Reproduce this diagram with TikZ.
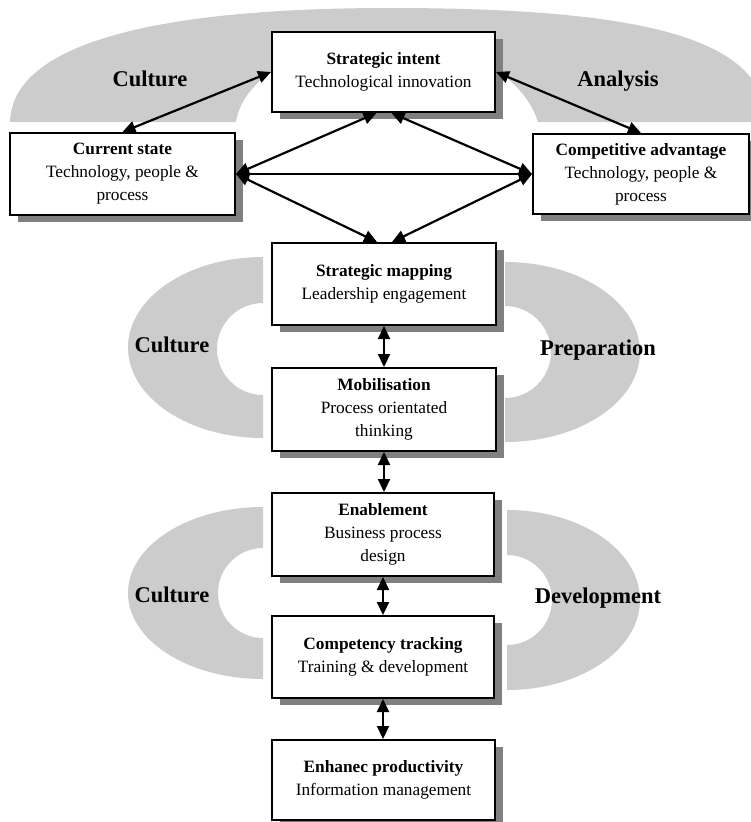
\documentclass[tikz,border=0pt]{standalone}
\usepackage{fontspec}
\setmainfont{Liberation Serif}
\usetikzlibrary{arrows.meta,shadows,calc}
\definecolor{band}{RGB}{204,204,204}
\definecolor{shade}{RGB}{128,128,128}
\begin{document}
\begin{tikzpicture}[x=1pt,y=-1pt,
  box/.style={draw=black, line width=2pt, fill=white, align=center, inner sep=2pt,
    font=\fontsize{17.3}{23}\selectfont,
    drop shadow={shadow xshift=8pt, shadow yshift=-7pt, fill=shade, opacity=1}},
  lab/.style={font=\fontsize{22.5}{27}\selectfont\bfseries, anchor=base, inner sep=0pt},
  arr/.style={{Triangle[length=13pt,width=12pt]}-{Triangle[length=13pt,width=12pt]}, line width=2.2pt}]
\useasboundingbox (0,0) rectangle (751,822);
\clip (0,0) rectangle (751,822);

% grey bands
\fill[band] (10,122) .. controls (12,45) and (150,8) .. (390,8)
  .. controls (650,8) and (765,40) .. (766,122) -- (538,122)
  .. controls (525,80) and (470,40) .. (390,40)
  .. controls (300,40) and (242,80) .. (236,122) -- cycle;
\fill[band] (263,257) arc[start angle=-90, end angle=-270, x radius=135, y radius=90.5]
  -- (263,395) arc[start angle=90, end angle=270, radius=46] -- cycle;
\fill[band] (505,262) arc[start angle=-90, end angle=90, x radius=135, y radius=90]
  -- (505,398) arc[start angle=90, end angle=-90, radius=46] -- cycle;
\fill[band] (263,507) arc[start angle=-90, end angle=-270, x radius=135, y radius=86]
  -- (263,638) arc[start angle=90, end angle=270, radius=45] -- cycle;
\fill[band] (507,510) arc[start angle=-90, end angle=90, x radius=133, y radius=90]
  -- (507,645) arc[start angle=90, end angle=-90, radius=45] -- cycle;

% band labels
\node[lab] (l1) at (150,86) {Culture};
\node[lab] (l2) at (618,86) {Analysis};
\node[lab] (l3) at (172,352) {Culture};
\node[lab] (l4) at (598,355) {Preparation};
\node[lab] (l5) at (172,602) {Culture};
\node[lab] (l6) at (598,603) {Development};

% boxes
\node[box, minimum width=223pt, minimum height=80pt] (si) at (383.5,72) {\textbf{Strategic intent}\\Technological innovation};
\node[box, minimum width=225pt, minimum height=82pt] (cs) at (122.5,174) {\textbf{Current state}\\Technology, people \&\\process};
\node[box, minimum width=216pt, minimum height=80pt] (ca) at (641,174) {\textbf{Competitive advantage}\\Technology, people \&\\process};
\node[box, minimum width=224pt, minimum height=82pt] (sm) at (384,284) {\textbf{Strategic mapping}\\Leadership engagement};
\node[box, minimum width=224pt, minimum height=83pt] (mob) at (384,409.5) {\textbf{Mobilisation}\\Process orientated\\thinking};
\node[box, minimum width=222pt, minimum height=83pt] (en) at (383,534.5) {\textbf{Enablement}\\Business process\\design};
\node[box, minimum width=222pt, minimum height=82pt] (ct) at (383,657) {\textbf{Competency tracking}\\Training \& development};
\node[box, minimum width=223pt, minimum height=80pt] (ep) at (383.5,780) {\textbf{Enhanec productivity}\\Information management};

% connectors
\draw[arr] (cs.north) -- (si.west);
\draw[arr] (si.east) -- (ca.north);
\draw[arr] (cs.east) -- (ca.west);
\draw[arr] (cs.east) -- ($(si.south)+(-7,0)$);
\draw[arr] (ca.west) -- ($(si.south)+(8,0)$);
\draw[arr] (cs.east) -- ($(sm.north)+(-7,0)$);
\draw[arr] (ca.west) -- ($(sm.north)+(8,0)$);
\draw[arr] (sm.south) -- (mob.north);
\draw[arr] (mob.south) -- (mob.south |- en.north);
\draw[arr] (en.south) -- (en.south |- ct.north);
\draw[arr] (ct.south) -- (ct.south |- ep.north);
\end{tikzpicture}
\end{document}
